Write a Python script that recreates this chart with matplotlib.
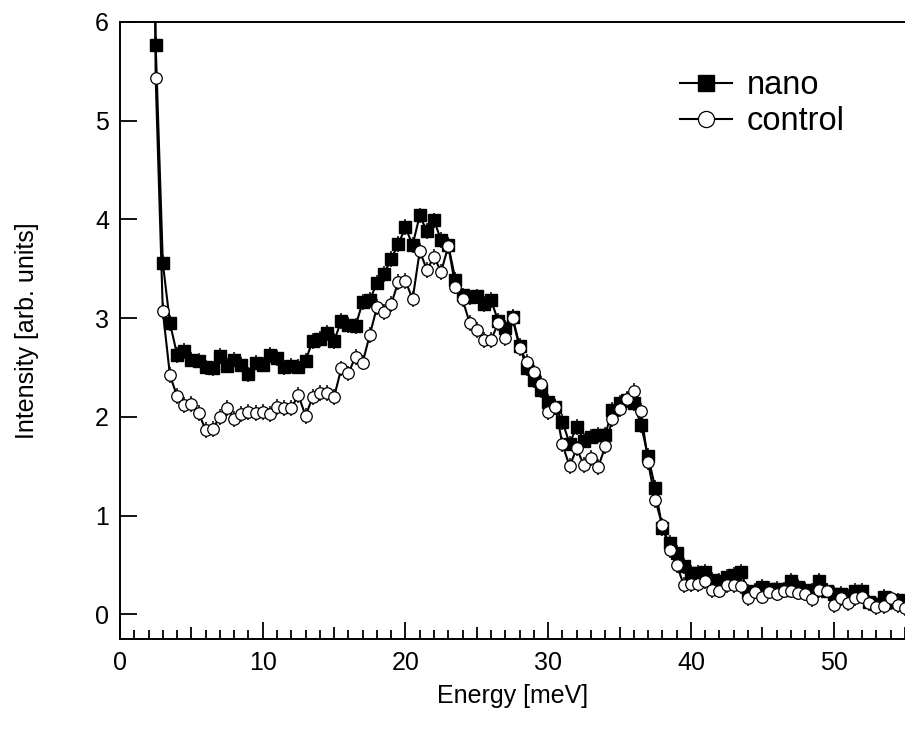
import numpy as np
import matplotlib
matplotlib.use("Agg")
import matplotlib.pyplot as plt
from matplotlib.ticker import MultipleLocator, FuncFormatter

plt.rcParams['font.family'] = ['Liberation Sans', 'DejaVu Sans']

# ---Datos (energia en meV, paso 0.5)
energia = np.arange(2.0, 55.01, 0.5)

nano = [14.0, 5.77, 3.56, 2.95, 2.63, 2.67, 2.58, 2.57, 2.50, 2.49,
        2.62, 2.52, 2.58, 2.53, 2.43, 2.55, 2.53, 2.63, 2.60, 2.50,
        2.52, 2.51, 2.57, 2.77, 2.79, 2.85, 2.77, 2.97, 2.93, 2.92,
        3.16, 3.18, 3.36, 3.45, 3.60, 3.75, 3.92, 3.74, 4.04, 3.88,
        3.99, 3.79, 3.74, 3.39, 3.23, 3.21, 3.22, 3.14, 3.18, 2.97,
        2.90, 3.01, 2.72, 2.49, 2.37, 2.27, 2.15, 2.10, 1.95, 1.73,
        1.90, 1.76, 1.80, 1.82, 1.82, 2.07, 2.14, 2.17, 2.14, 1.92,
        1.60, 1.28, 0.87, 0.72, 0.62, 0.49, 0.42, 0.42, 0.43, 0.35,
        0.34, 0.38, 0.40, 0.43, 0.23, 0.24, 0.28, 0.26, 0.26, 0.25,
        0.34, 0.28, 0.25, 0.24, 0.34, 0.24, 0.21, 0.21, 0.18, 0.24,
        0.24, 0.12, 0.10, 0.18, 0.12, 0.14, 0.12]

control = [13.0, 5.43, 3.07, 2.42, 2.21, 2.12, 2.13, 2.04, 1.87, 1.88,
           2.00, 2.09, 1.98, 2.03, 2.05, 2.04, 2.05, 2.03, 2.10, 2.09,
           2.09, 2.22, 2.01, 2.20, 2.24, 2.24, 2.20, 2.49, 2.44, 2.61,
           2.55, 2.83, 3.11, 3.06, 3.14, 3.37, 3.38, 3.19, 3.68, 3.49,
           3.62, 3.47, 3.73, 3.32, 3.19, 2.95, 2.88, 2.78, 2.78, 2.95,
           2.80, 3.00, 2.70, 2.56, 2.45, 2.33, 2.05, 2.10, 1.72, 1.50,
           1.68, 1.51, 1.58, 1.49, 1.70, 1.98, 2.08, 2.18, 2.26, 2.06,
           1.54, 1.16, 0.90, 0.65, 0.50, 0.30, 0.31, 0.31, 0.34, 0.25,
           0.24, 0.30, 0.30, 0.29, 0.16, 0.23, 0.18, 0.23, 0.21, 0.24,
           0.24, 0.22, 0.21, 0.15, 0.25, 0.24, 0.09, 0.16, 0.11, 0.16,
           0.18, 0.11, 0.07, 0.08, 0.16, 0.09, 0.06]

error = 0.08   # barra de error aproximada

# ---Figura
fig = plt.figure(figsize=(9.05, 7.3), dpi=100)
ax = fig.add_axes([0.1326, 0.1247, 0.8674, 0.8452])

ax.errorbar(energia, nano, yerr=error, fmt='none', ecolor='black', elinewidth=1.1)
ax.errorbar(energia, control, yerr=error, fmt='none', ecolor='black', elinewidth=1.1)
ax.plot(energia, nano, '-s', color='black', lw=1.5, ms=8.3,
        mfc='black', mec='black', label='nano')
ax.plot(energia, control, '-o', color='black', lw=1.5, ms=8.3,
        mfc='white', mec='black', mew=0.9, label='control')

ax.set_xlim(0, 55)
ax.set_ylim(-0.25, 6)

# ---Ejes
ax.spines['right'].set_visible(False)
for s in ['left', 'top', 'bottom']:
    ax.spines[s].set_linewidth(1.4)

ax.yaxis.set_major_locator(MultipleLocator(1))
ax.tick_params(axis='y', direction='in', length=12, width=1.3, pad=8,
               labelsize=18, right=False)

ax.xaxis.set_major_locator(MultipleLocator(5))
ax.xaxis.set_minor_locator(MultipleLocator(1))
ax.xaxis.set_major_formatter(FuncFormatter(lambda v, p: '%d' % v if v % 10 == 0 else ''))
ax.tick_params(axis='x', which='major', direction='in', length=12, width=1.3,
               pad=9, labelsize=18, top=False)
ax.tick_params(axis='x', which='minor', direction='in', length=6.5, width=1.3, top=False)
for t, v in zip(ax.xaxis.get_major_ticks(), ax.xaxis.get_majorticklocs()):
    if v % 10 != 0:
        t.tick1line.set_markersize(8.5)

ax.set_xlabel('Energy [meV]', fontsize=18, labelpad=6)
ax.set_ylabel('Intensity [arb. units]', fontsize=18, labelpad=40)

ax.legend(loc='upper left', bbox_to_anchor=(0.692, 0.948), frameon=False,
          fontsize=23.5, markerscale=1.4, handlelength=1.6, handletextpad=0.45,
          labelspacing=0.15, borderpad=0)

fig.savefig('out.png', dpi=100)
